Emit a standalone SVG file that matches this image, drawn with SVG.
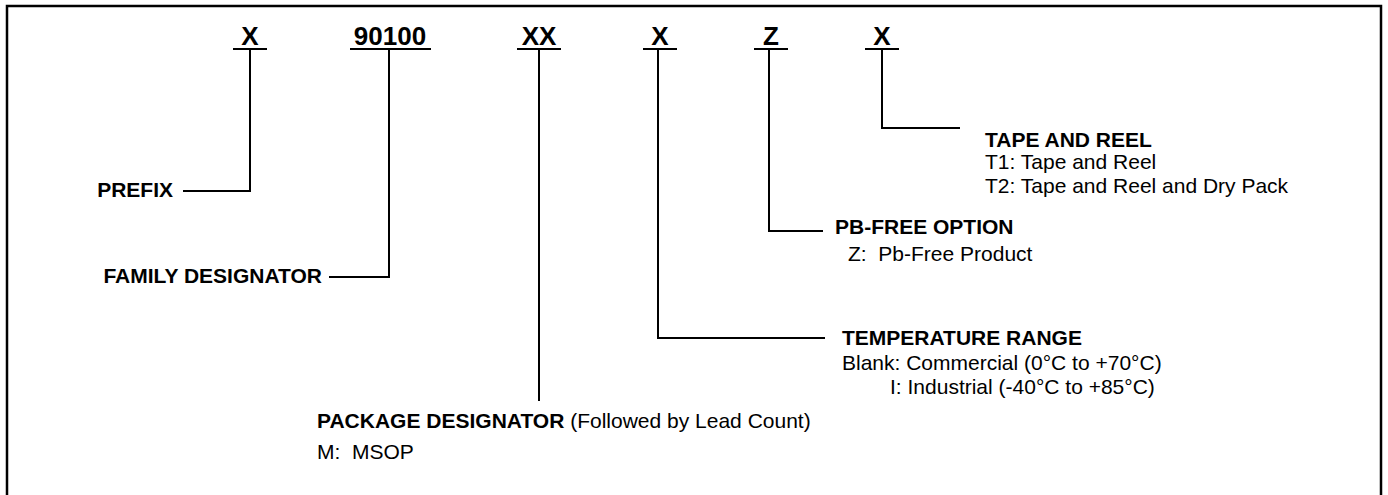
<svg xmlns="http://www.w3.org/2000/svg" width="1388" height="495" viewBox="0 0 1388 495">
<style>
text{font-family:"Liberation Sans",Arial,sans-serif;fill:#000}
.code{font-size:26px;font-weight:bold;text-anchor:middle}
.lbl{font-size:21px;font-weight:bold}
.txt{font-size:21px;white-space:pre}
.ln{stroke:#000;stroke-width:2;fill:none}
</style>
<rect width="1388" height="495" fill="#fff"/>
<rect x="7" y="6" width="1374" height="500" fill="none" stroke="#000" stroke-width="2.5"/>
<g id="codes">
<text class="code" x="250" y="45">X</text>
<text class="code" x="390" y="45">90100</text>
<text class="code" x="539" y="45">XX</text>
<text class="code" x="660" y="45">X</text>
<text class="code" x="771" y="45">Z</text>
<text class="code" x="882" y="45">X</text>
</g>
<g id="connectors" class="ln">
<path class="ln" d="M233 49H267M250 49V191H183"/>
<path class="ln" d="M350 49H431M389 49V277H329"/>
<path class="ln" d="M517 49H561M539 49V401"/>
<path class="ln" d="M643 49H677M658 49V338H825"/>
<path class="ln" d="M754 49H788M769 49V231H823"/>
<path class="ln" d="M865 49H899M882 49V128H960"/>
</g>
<g id="prefix"><text class="lbl" x="173" y="197" text-anchor="end">PREFIX</text></g>
<g id="family"><text class="lbl" x="322" y="283" text-anchor="end">FAMILY DESIGNATOR</text></g>
<g id="package">
<text x="317" y="428"><tspan class="lbl">PACKAGE DESIGNATOR</tspan><tspan class="txt"> (Followed by Lead Count)</tspan></text>
<text class="txt" x="317" y="459">M:  MSOP</text>
</g>
<g id="temperature">
<text class="lbl" x="842" y="345">TEMPERATURE RANGE</text>
<text class="txt" x="842" y="370">Blank: Commercial (0°C to +70°C)</text>
<text class="txt" x="890" y="394">I: Industrial (-40°C to +85°C)</text>
</g>
<g id="pbfree">
<text class="lbl" x="835" y="234">PB-FREE OPTION</text>
<text class="txt" x="848" y="261">Z:  Pb-Free Product</text>
</g>
<g id="tape">
<text class="lbl" x="985" y="147">TAPE AND REEL</text>
<text class="txt" x="985" y="169">T1: Tape and Reel</text>
<text class="txt" x="985" y="193">T2: Tape and Reel and Dry Pack</text>
</g>
</svg>
